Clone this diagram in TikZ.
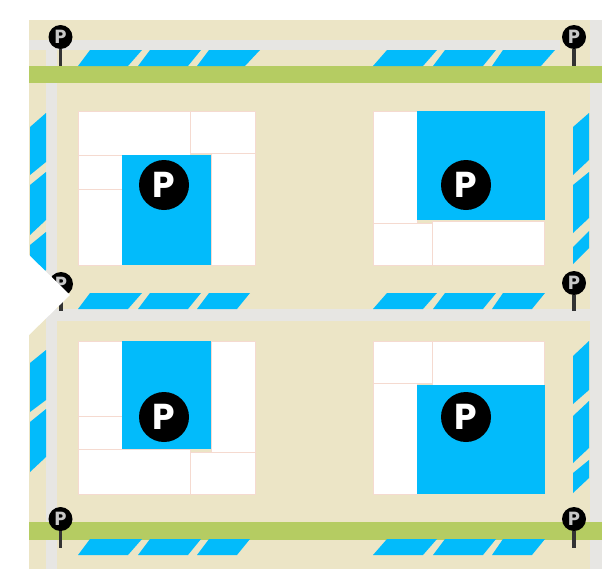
\documentclass[tikz,border=0pt]{standalone}
\usepackage{fontspec}
\setsansfont{Poppins}
\definecolor{groundcol}{HTML}{ECE5C6}
\definecolor{roadcol}{HTML}{E7E6E3}
\definecolor{greencol}{HTML}{B5CC62}
\definecolor{bluecol}{HTML}{02BBFB}
\definecolor{lotcol}{HTML}{F5DAD0}
\definecolor{signcol}{HTML}{C8C8C8}

\begin{document}
\begin{tikzpicture}[x=1pt, y=-1pt, line cap=butt, line join=round,
    lot/.style={fill=white, draw=lotcol, line width=0.7pt},
    bay/.style={fill=bluecol},
    bigsign/.style={circle, fill=black, text=white, inner sep=0pt, minimum size=50pt,
        font=\sffamily\bfseries\fontsize{36}{36}\selectfont},
    pinsign/.style={circle, fill=black, text=signcol, inner sep=0pt, minimum size=24pt,
        font=\sffamily\bfseries\fontsize{19}{19}\selectfont},
    stem/.style={line width=3.4pt, draw=black!80}]

\useasboundingbox (0,0) rectangle (602,573);

% ----------------------------
% GROUND AND ROADS
% ----------------------------
\fill[groundcol] (29,20) rectangle (602,569);
\fill[roadcol] (29,40) rectangle (560,50);
\fill[roadcol] (46,40) rectangle (57,66);
\fill[roadcol] (46,83) rectangle (57,569);
\fill[roadcol] (46,309) rectangle (590,321);
\fill[roadcol] (590,20) rectangle (602,569);
\fill[greencol] (29,66) rectangle (602,83);
\fill[greencol] (29,522) rectangle (602,540);

% ----------------------------
% STREET BAYS (horizontal)
% ----------------------------
% top row
\foreach \xa/\xb/\xc/\xd in {78/128/142/90, 138/188/201/150, 197/245/260/209,
                             373/423/437/387, 433/483/496/445, 492/541/555/503}
    \fill[bay] (\xa,66) -- (\xb,66) -- (\xc,50) -- (\xd,50) -- cycle;
% middle row
\foreach \xa/\xb/\xc/\xd in {78/128/142/90, 138/188/201/150, 197/237/250/209,
                             373/423/437/387, 433/483/496/445, 492/532/545/503}
    \fill[bay] (\xa,309) -- (\xb,309) -- (\xc,293) -- (\xd,293) -- cycle;
% bottom row
\foreach \xa/\xb/\xc/\xd in {78/128/142/90, 138/188/201/150, 197/237/250/209,
                             373/423/437/387, 433/483/496/445, 492/532/545/503}
    \fill[bay] (\xa,555) -- (\xb,555) -- (\xc,539) -- (\xd,539) -- cycle;

% ----------------------------
% STREET BAYS (vertical)
% ----------------------------
% left side
\foreach \ya/\yb/\yc/\yd in {113/127/175/162, 172/185/235/220, 232/245/285/270,
                             350/363/412/400, 409/422/472/457}
    \fill[bay] (46,\ya) -- (30,\yb) -- (30,\yc) -- (46,\yd) -- cycle;
% right side
\foreach \ya/\yb/\yc/\yd in {113/127/175/160, 172/185/233/218, 231/247/264/248,
                             341/356/404/390, 401/416/463/448, 460/473/493/478}
    \fill[bay] (589,\ya) -- (573,\yb) -- (573,\yc) -- (589,\yd) -- cycle;

% ----------------------------
% BLOCK A (upper left)
% ----------------------------
\draw[lot] (78,111) rectangle (190,155);
\draw[lot] (190,111) rectangle (255,153);
\draw[lot] (78,155) rectangle (122,189);
\draw[lot] (78,189) rectangle (122,265);
\draw[lot] (211,153) rectangle (255,265);
\fill[bay] (122,155) rectangle (211,265);
\node[bigsign] (parkA) at (164,185) {P};

% ----------------------------
% BLOCK B (upper right)
% ----------------------------
\draw[lot] (373,111) rectangle (417,223);
\draw[lot] (373,223) rectangle (432,265);
\draw[lot] (432,221) rectangle (544,265);
\fill[bay] (417,111) rectangle (545,220);
\node[bigsign] (parkB) at (466,185) {P};

% ----------------------------
% BLOCK C (lower left)
% ----------------------------
\draw[lot] (78,341) rectangle (122,416);
\draw[lot] (78,416) rectangle (122,449);
\draw[lot] (211,341) rectangle (255,452);
\draw[lot] (78,449) rectangle (190,494);
\draw[lot] (190,452) rectangle (255,494);
\fill[bay] (122,341) rectangle (211,449);
\node[bigsign] (parkC) at (164,417) {P};

% ----------------------------
% BLOCK D (lower right)
% ----------------------------
\draw[lot] (373,341) rectangle (432,383);
\draw[lot] (432,341) rectangle (544,385);
\draw[lot] (373,383) rectangle (417,494);
\fill[bay] (417,385) rectangle (545,494);
\node[bigsign] (parkD) at (466,417) {P};

% ----------------------------
% PIN SIGNS
% ----------------------------
\foreach \name/\xp/\yp/\yend in {pinA/60.5/37/66, pinB/574/37/66,
                                 pinC/61/284/311, pinD/574/283/311,
                                 pinE/60.5/519/548, pinF/574/519/548} {
    \node[pinsign] (\name) at (\xp,\yp) {P};
    \coordinate (\name end) at (\xp,\yend);
    \draw[stem] (\name) -- (\name end);
}

% ----------------------------
% WHITE MARKER
% ----------------------------
\fill[white] (29,255) -- (70,295) -- (29,335) -- cycle;

\end{tikzpicture}
\end{document}
